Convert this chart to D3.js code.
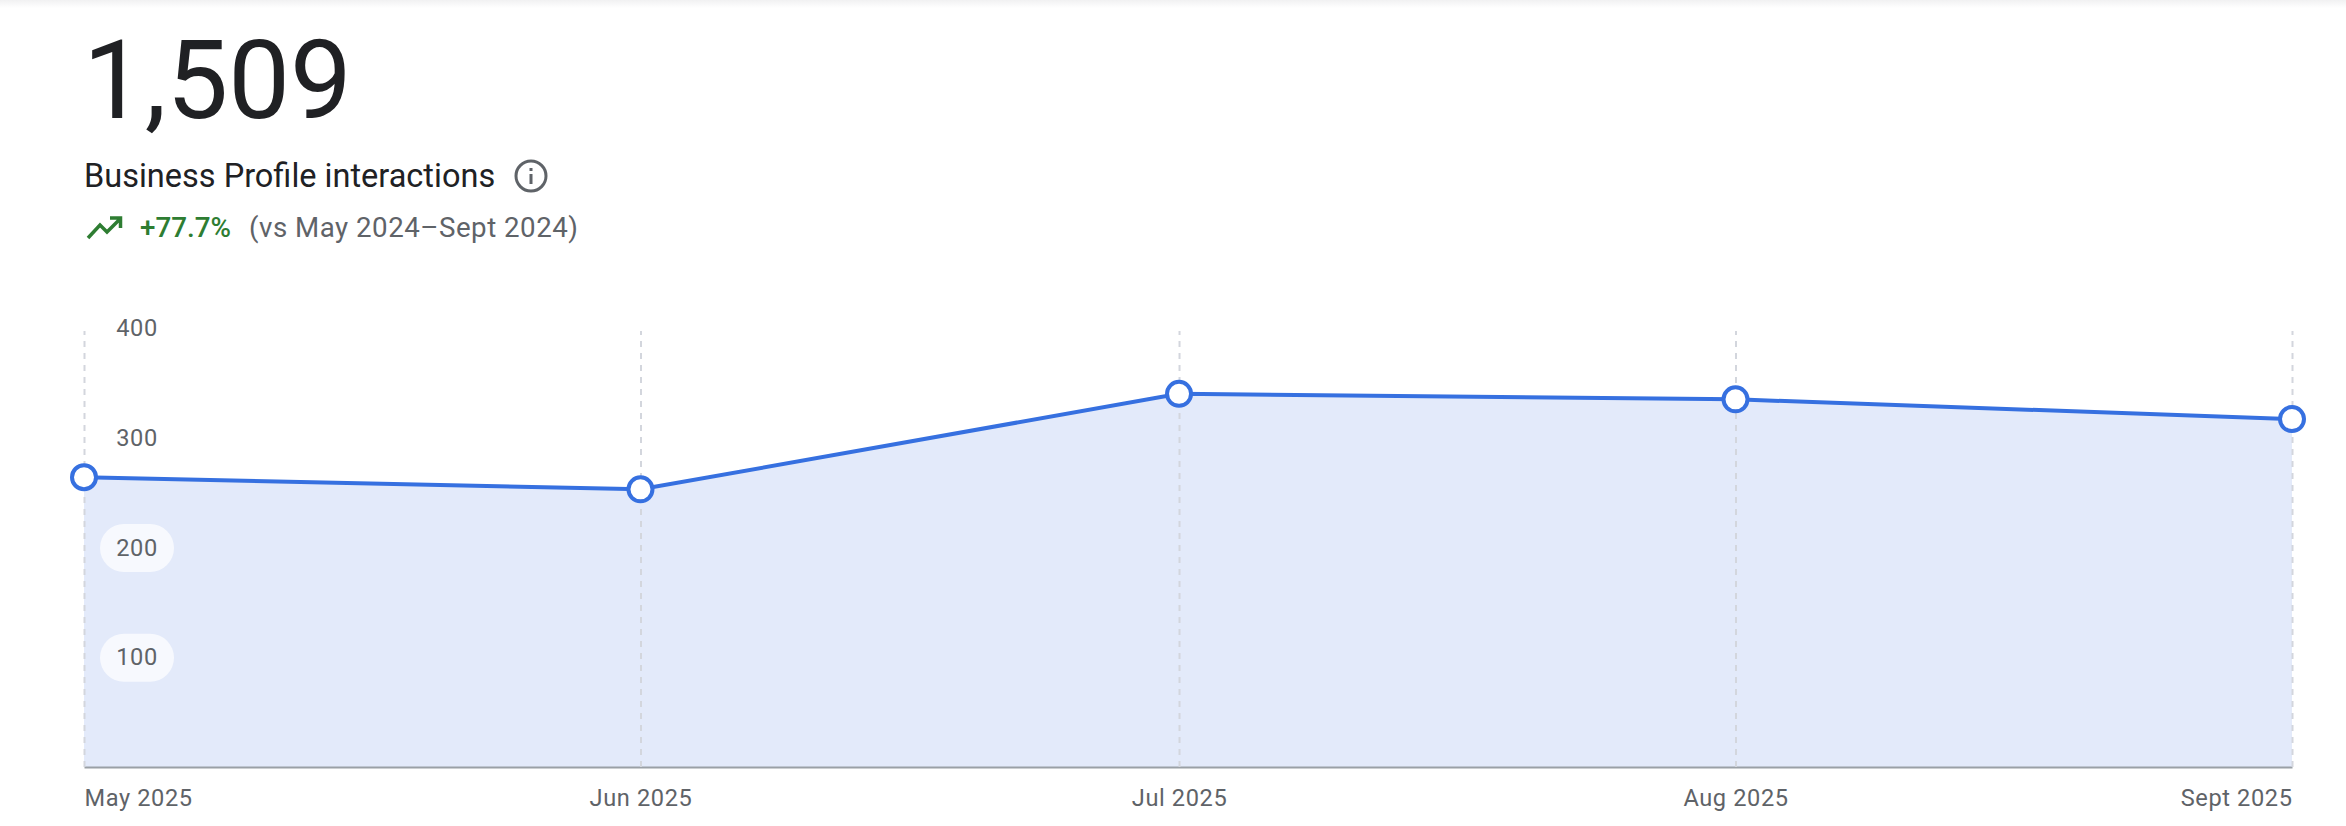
<!DOCTYPE html>
<html>
<head>
<meta charset="utf-8">
<script src="https://cdn.jsdelivr.net/npm/d3@7"></script>
<style>
  html, body { margin: 0; padding: 0; background: #fff; }
  svg { display: block; }
  text { font-family: Roboto, sans-serif; }
  .tick-label { font-size: 23.6px; fill: #5f6368; letter-spacing: 0.6px; }
</style>
</head>
<body>
<svg id="chart"></svg>
<script>
const months = ["2025-05-01", "2025-06-01", "2025-07-01", "2025-08-01", "2025-09-01"];
const interactions = [264, 253, 340, 335, 317];
const monthLabels = ["May 2025", "Jun 2025", "Jul 2025", "Aug 2025", "Sept 2025"];
const yTicks = [100, 200, 300, 400];

const width = 2346;
const height = 826;
const margin = { top: 328, right: 54, bottom: 59, left: 84 };

const svg = d3.select("#chart").attr("width", width).attr("height", height);

const parseDate = d3.timeParse("%Y-%m-%d");
const dates = months.map(parseDate);
const data = dates.map((d, i) => ({ date: d, value: interactions[i] }));

const xScale = d3.scaleTime()
  .domain(d3.extent(dates))
  .range([margin.left, width - margin.right]);

const yScale = d3.scaleLinear()
  .domain([0, 400])
  .range([height - margin.bottom, margin.top]);

// Thin shadow along the top edge of the card
const shadow = svg.append("defs").append("linearGradient")
  .attr("id", "top-shadow")
  .attr("x1", 0).attr("x2", 0).attr("y1", 0).attr("y2", 1);
shadow.append("stop").attr("offset", "0%").attr("stop-color", "#f1f1f2");
shadow.append("stop").attr("offset", "100%").attr("stop-color", "#ffffff");
svg.append("rect")
  .attr("width", width)
  .attr("height", 8)
  .attr("fill", "url(#top-shadow)");

// Header
svg.append("text")
  .attr("x", 83)
  .attr("y", 118)
  .attr("font-size", 110)
  .attr("fill", "#202124")
  .text("1,509");

svg.append("text")
  .attr("x", 84)
  .attr("y", 187)
  .attr("font-size", 32.5)
  .attr("fill", "#202124")
  .text("Business Profile interactions");

// Info icon
const info = svg.append("g").attr("transform", "translate(531,176)");
info.append("circle")
  .attr("r", 15)
  .attr("fill", "none")
  .attr("stroke", "#5f6368")
  .attr("stroke-width", 3);
info.append("rect").attr("x", -1.5).attr("y", -2).attr("width", 3).attr("height", 10).attr("fill", "#5f6368");
info.append("rect").attr("x", -1.5).attr("y", -8).attr("width", 3).attr("height", 3).attr("fill", "#5f6368");

// Trend arrow
svg.append("path")
  .attr("d", "M88 238 L100 225 L107 232 L120 219 M110 218 L120.5 218 L120.5 228")
  .attr("fill", "none")
  .attr("stroke", "#2e7d32")
  .attr("stroke-width", 3.5);

svg.append("text")
  .attr("x", 140)
  .attr("y", 237)
  .attr("font-size", 27.8)
  .attr("font-weight", 500)
  .attr("fill", "#2e7d32")
  .text("+77.7%");

svg.append("text")
  .attr("x", 249)
  .attr("y", 237)
  .attr("font-size", 27.7)
  .attr("fill", "#5f6368")
  .attr("letter-spacing", "0.5px")
  .text("(vs May 2024–Sept 2024)");

// Area under the line
const area = d3.area()
  .x(d => xScale(d.date))
  .y0(yScale(0))
  .y1(d => yScale(d.value));

const line = d3.line()
  .x(d => xScale(d.date))
  .y(d => yScale(d.value));

svg.append("path")
  .datum(data)
  .attr("d", area)
  .attr("fill", "#e3eafa");

// X axis, its tick lines are the dashed verticals
const xAxis = svg.append("g")
  .attr("transform", `translate(0,${yScale(0)})`)
  .call(d3.axisBottom(xScale)
    .tickValues(dates)
    .tickFormat((d, i) => monthLabels[i])
    .tickSizeInner(-(yScale(0) - yScale(400)) + 3)
    .tickSizeOuter(0)
    .tickPadding(22));

xAxis.select(".domain")
  .attr("stroke", "#9aa0a6")
  .attr("stroke-width", 2);

xAxis.selectAll(".tick line")
  .attr("stroke", "#d3d6dd")
  .attr("stroke-width", 2)
  .attr("stroke-dasharray", "6 6");

xAxis.selectAll(".tick text")
  .attr("class", "tick-label")
  .attr("text-anchor", (d, i) => i === 0 ? "start" : i === dates.length - 1 ? "end" : "middle")
  .attr("font-family", null)
  .attr("font-size", null);

// Y axis labels sit on soft pills inside the plot
const yAxis = svg.append("g")
  .attr("transform", `translate(137,0)`)
  .call(d3.axisRight(yScale)
    .tickValues(yTicks)
    .tickSize(0)
    .tickPadding(0));

yAxis.select(".domain").remove();

yAxis.selectAll(".tick").insert("rect", "text")
  .attr("x", -37)
  .attr("y", -24)
  .attr("width", 74)
  .attr("height", 48)
  .attr("rx", 24)
  .attr("fill", "#ffffff")
  .attr("fill-opacity", 0.72);

yAxis.selectAll(".tick text")
  .attr("class", "tick-label")
  .attr("text-anchor", "middle")
  .attr("font-family", null)
  .attr("font-size", null);

// Line and hollow markers
svg.append("path")
  .datum(data)
  .attr("d", line)
  .attr("fill", "none")
  .attr("stroke", "#3670e0")
  .attr("stroke-width", 4);

svg.selectAll(".marker")
  .data(data)
  .join("circle")
    .attr("class", "marker")
    .attr("cx", d => xScale(d.date))
    .attr("cy", d => yScale(d.value))
    .attr("r", 12)
    .attr("fill", "#ffffff")
    .attr("stroke", "#3670e0")
    .attr("stroke-width", 4);
</script>
</body>
</html>
